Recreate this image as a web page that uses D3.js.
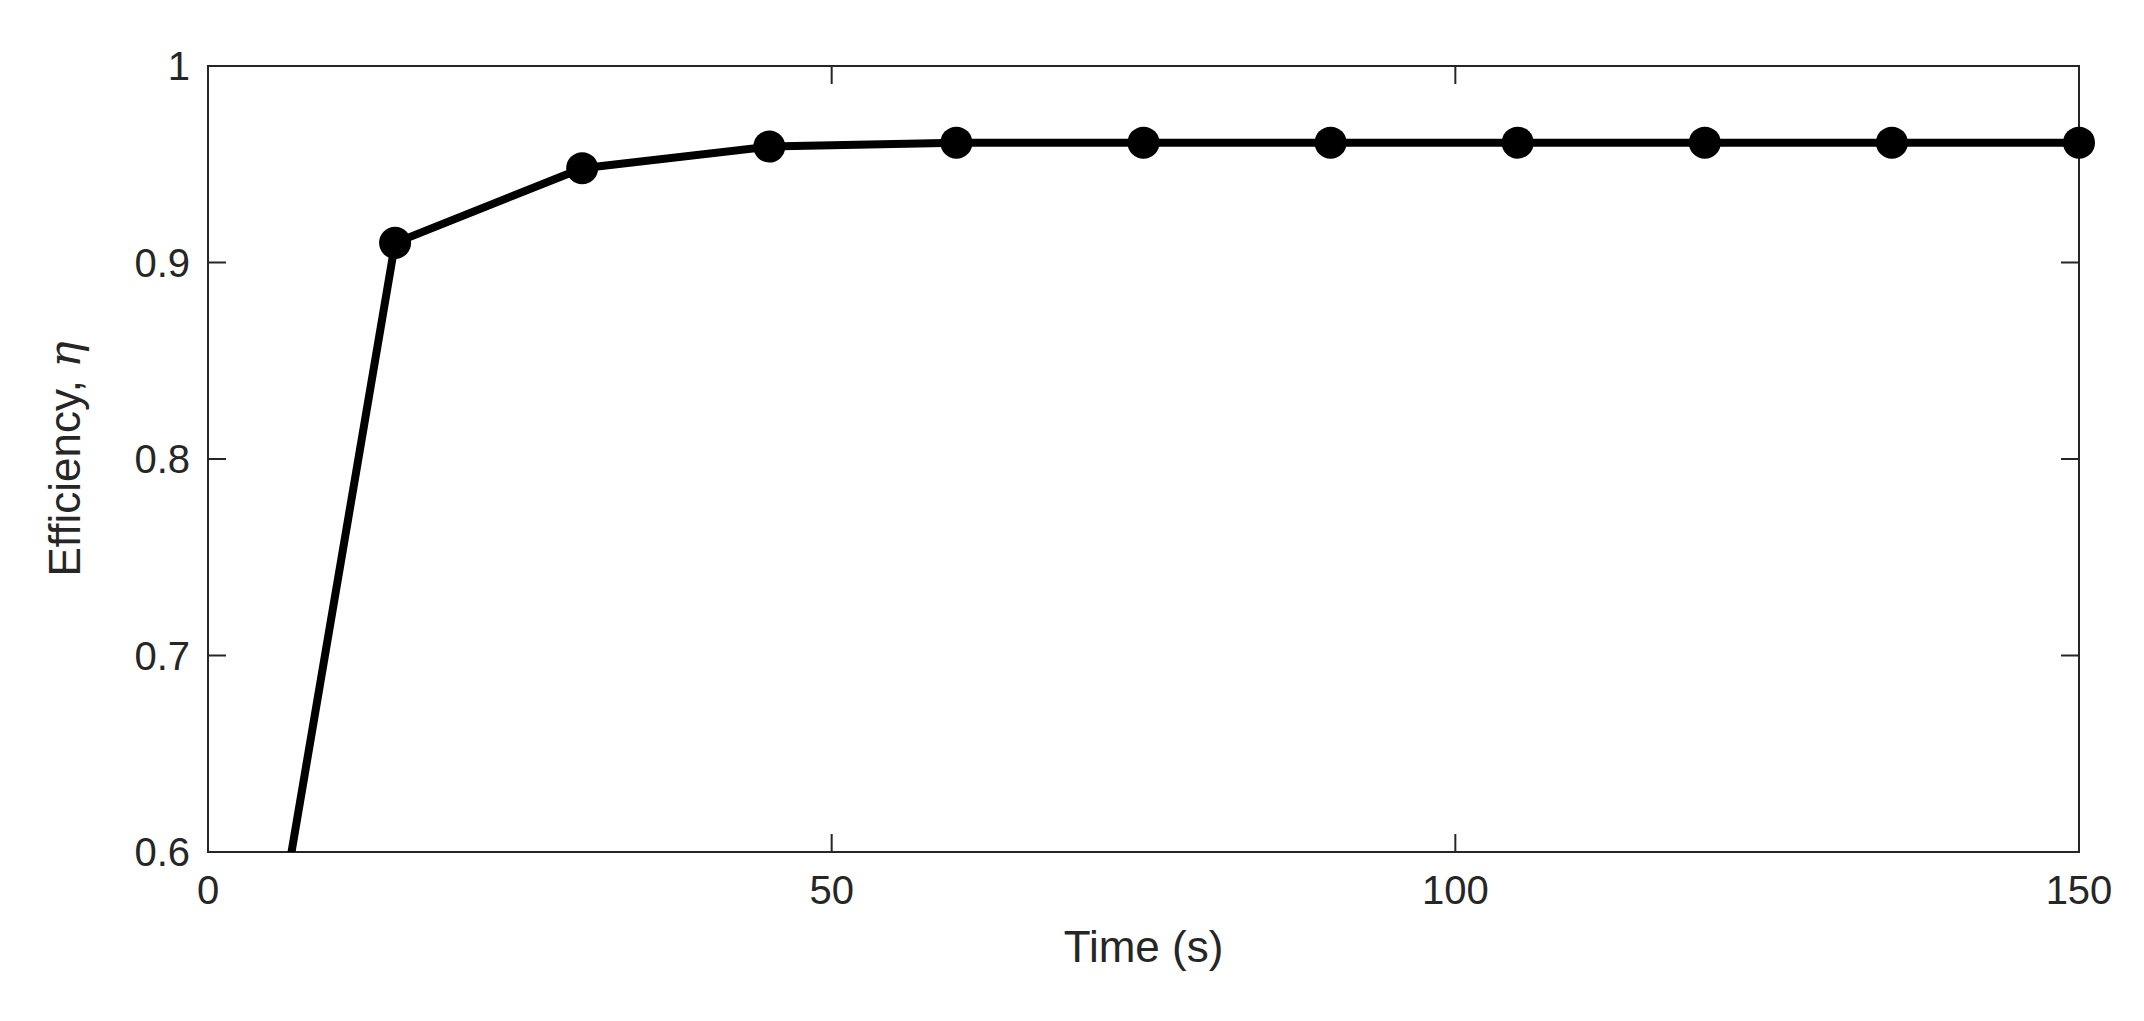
<!DOCTYPE html>
<html><head><meta charset="utf-8">
<script src="https://cdn.jsdelivr.net/npm/d3@7"></script>
<style>body{margin:0;background:#fff}text{font-family:"Liberation Sans",Arial,sans-serif;fill:#262626}</style>
</head><body><svg id="chart" width="2144" height="1021"></svg>
<script>
// data
const times = [0, 15, 30, 45, 60, 75, 90, 105, 120, 135, 150];
const efficiency = [0.35, 0.91, 0.948, 0.959, 0.961, 0.961, 0.961, 0.961, 0.961, 0.961, 0.961];
const xTicks = [0, 50, 100, 150];
const yTicks = [0.6, 0.7, 0.8, 0.9, 1];

const M = {left: 208, right: 2079, top: 66, bottom: 852};
const svg = d3.select('#chart');
const x = d3.scaleLinear().domain([0, 150]).range([M.left, M.right]);
const y = d3.scaleLinear().domain([0.6, 1]).range([M.bottom, M.top]);
const pts = times.map((t, i) => [t, efficiency[i]]);

svg.append('clipPath').attr('id', 'clip').append('rect')
  .attr('x', M.left).attr('y', M.top - 20).attr('width', M.right - M.left + 20).attr('height', M.bottom - M.top + 20);

// box + inward ticks
const axisCol = '#262626';
svg.append('rect').attr('x', M.left).attr('y', M.top).attr('width', M.right - M.left).attr('height', M.bottom - M.top)
  .attr('fill', 'none').attr('stroke', axisCol).attr('stroke-width', 2);
const tl = 18;
xTicks.forEach(t => {
  svg.append('line').attr('x1', x(t)).attr('x2', x(t)).attr('y1', M.bottom).attr('y2', M.bottom - tl).attr('stroke', axisCol).attr('stroke-width', 2);
  svg.append('line').attr('x1', x(t)).attr('x2', x(t)).attr('y1', M.top).attr('y2', M.top + tl).attr('stroke', axisCol).attr('stroke-width', 2);
  svg.append('text').attr('x', x(t)).attr('y', M.bottom + 52).attr('text-anchor', 'middle').attr('font-size', 40).text(t);
});
yTicks.forEach(v => {
  svg.append('line').attr('x1', M.left).attr('x2', M.left + tl).attr('y1', y(v)).attr('y2', y(v)).attr('stroke', axisCol).attr('stroke-width', 2);
  svg.append('line').attr('x1', M.right).attr('x2', M.right - tl).attr('y1', y(v)).attr('y2', y(v)).attr('stroke', axisCol).attr('stroke-width', 2);
  svg.append('text').attr('x', M.left - 18).attr('y', y(v) + 14).attr('text-anchor', 'end').attr('font-size', 40).text(v);
});

svg.append('text').attr('x', (M.left + M.right) / 2).attr('y', 962).attr('text-anchor', 'middle').attr('font-size', 44).text('Time (s)');
const yl = svg.append('text').attr('transform', `translate(80,${(M.top + M.bottom) / 2}) rotate(-90)`).attr('text-anchor', 'middle').attr('font-size', 44);
yl.append('tspan').text('Efficiency, ');
yl.append('tspan').attr('font-family', 'DejaVu Serif').attr('font-style', 'italic').text('η');

const g = svg.append('g').attr('clip-path', 'url(#clip)');
g.append('path').datum(pts)
  .attr('d', d3.line().x(d => x(d[0])).y(d => y(d[1])))
  .attr('fill', 'none').attr('stroke', '#000').attr('stroke-width', 8).attr('stroke-linejoin', 'round');
g.selectAll('circle').data(pts.filter(d => d[0] > 0)).join('circle')
  .attr('cx', d => x(d[0])).attr('cy', d => y(d[1])).attr('r', 16).attr('fill', '#000');
</script></body></html>
